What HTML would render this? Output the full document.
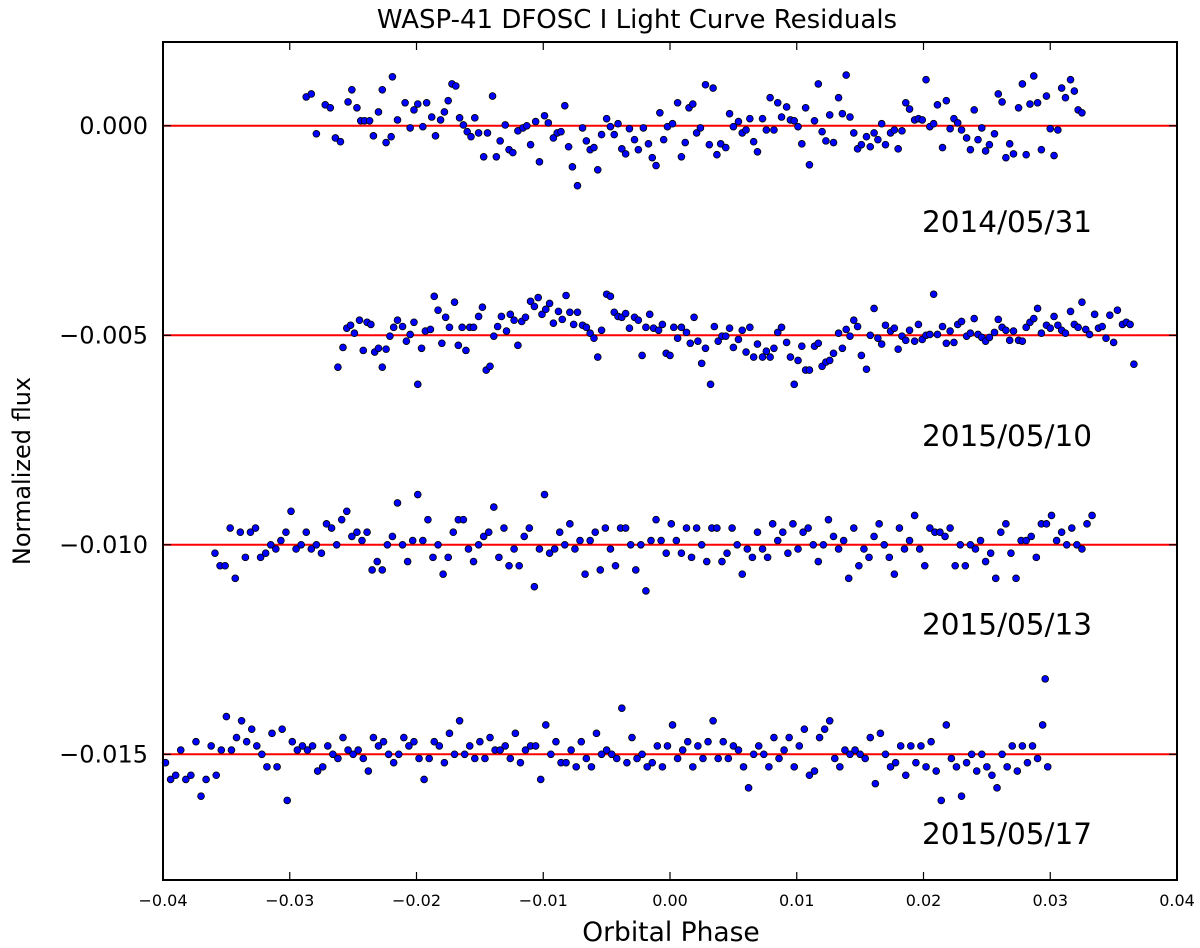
<!DOCTYPE html>
<html><head><meta charset="utf-8"><style>
html,body{margin:0;padding:0;background:#fff;}
svg{display:block;font-family:"DejaVu Sans","Liberation Sans",sans-serif;}
</style></head><body>
<svg id="chart" width="1200" height="948" viewBox="0 0 1200 948" xmlns="http://www.w3.org/2000/svg">
<rect width="1200" height="948" fill="#fff"/>
<text x="637" y="28" font-size="26" text-anchor="middle">WASP-41 DFOSC I Light Curve Residuals</text>
<text x="671" y="941" font-size="26.5" text-anchor="middle">Orbital Phase</text>
<text transform="translate(30,471) rotate(-90)" font-size="24" text-anchor="middle">Normalized flux</text>
<g id="lines"></g><g id="pts"></g><g id="axes"></g><g id="labels"></g>
<rect x="163" y="42" width="1014" height="838" fill="none" stroke="#000" stroke-width="2"/>
</svg>
<script>
const xTicks=[-0.04,-0.03,-0.02,-0.01,0.00,0.01,0.02,0.03,0.04];
const xTickLabels=["\u22120.04","\u22120.03","\u22120.02","\u22120.01","0.00","0.01","0.02","0.03","0.04"];
const yTicks=[0,-0.005,-0.010,-0.015];
const yTickLabels=["0.000","\u22120.005","\u22120.010","\u22120.015"];
const baselines=[0,-0.005,-0.010,-0.015];
const dateLabels=["2014/05/31","2015/05/10","2015/05/13","2015/05/17"];
const dateLabelY=[-0.0023,-0.0074,-0.0119,-0.0169];
// phases in units of 1e-3, residuals in units of 1e-4 relative to baseline
const phase1=[-28.7,-28.3,-27.9,-27.2,-26.8,-26.4,-26.0,-25.4,-25.1,-24.7,-24.4,-24.1,-23.7,-23.4,-23.0,-22.7,-22.4,-22.0,-21.9,-21.5,-20.9,-20.5,-20.2,-19.9,-19.5,-19.2,-18.8,-18.5,-18.1,-17.8,-17.5,-17.2,-16.9,-16.6,-16.3,-16.0,-15.7,-15.4,-15.1,-14.7,-14.4,-14.0,-13.7,-13.4,-13.0,-12.7,-12.4,-12.0,-11.6,-11.3,-11.0,-10.6,-10.3,-9.9,-9.6,-9.2,-8.9,-8.6,-8.3,-8.0,-7.7,-7.3,-6.9,-6.6,-6.3,-6.0,-5.7,-5.4,-5.0,-4.7,-4.4,-4.1,-3.8,-3.5,-3.2,-2.8,-2.5,-2.1,-1.7,-1.4,-1.1,-0.8,-0.5,-0.2,0.2,0.6,0.9,1.2,1.5,1.8,2.1,2.4,2.8,3.1,3.4,3.7,4.0,4.4,4.7,5.0,5.4,5.7,6.0,6.3,6.6,6.9,7.3,7.6,7.9,8.2,8.5,8.8,9.2,9.5,9.8,10.1,10.4,10.7,11.0,11.4,11.7,12.0,12.3,12.6,12.9,13.3,13.6,13.9,14.2,14.5,14.8,15.1,15.5,15.8,16.1,16.4,16.7,17.0,17.4,17.7,18.0,18.3,18.6,18.9,19.3,19.6,19.9,20.2,20.5,20.8,21.1,21.5,21.8,22.1,22.4,22.7,23.0,23.4,23.7,24.0,24.3,24.6,24.9,25.2,25.6,25.9,26.2,26.5,26.8,27.1,27.5,27.8,28.1,28.4,28.7,29.0,29.3,29.7,30.0,30.3,30.6,30.9,31.2,31.6,31.9,32.2,32.5];
const resid1=[6.9,7.6,-1.9,5,4.3,-2.9,-3.8,5.7,8.6,4.3,1.2,1.2,1.2,-2.4,3.3,8.6,-4,-2.6,11.7,1.4,5.5,-0.5,3.8,5.2,-0.2,5.5,2.1,-2.4,1.4,3.3,6,10,9.5,1.9,0.2,-1.4,-2.6,1.9,-1.7,-7.4,-1.7,7.1,-7.4,-3.6,0.2,-5.7,-6.4,-1.2,-0.5,0,-4.5,1,-8.6,2.4,0.7,-2.9,-1.7,-1.4,4.8,-5,-9.8,-14.3,-0.5,-3.6,-5.7,-5.2,-10.5,-2.1,1.7,-0.2,-2.1,0.5,-5.5,-6.7,-0.7,-3.3,-5.7,-0.5,-4.3,-7.6,-9.5,3.1,-3.3,-0.2,0.5,5.5,-7.4,-4,4.3,5.2,-1.7,-0.5,9.8,-4.5,9,-6.9,-4.3,-5.2,2.9,-0.2,1,-1.7,-1,1.7,-3.8,-6.2,1.7,-1,6.7,-1,5.5,2.1,4.5,1.4,1.2,-0.2,-4.3,4.3,-9.3,1.2,10,-1.4,-3.6,2.6,-4,6.7,2.9,12.1,2.1,-1.7,-5.5,-4.5,-2.6,-5,-1.7,-3.3,0.5,-4.5,-1.7,-1,-5.5,-1.2,5.5,4,1.4,1.7,1.4,11,-0.2,0.5,5,-5.2,6,-0.7,1.7,0.7,-1,-2.9,-5.7,3.8,-3.3,-0.5,-6,-4.5,-1.9,7.6,5.7,-7.6,-4.3,-6.7,4.3,10,-6.9,5.2,11.9,5.5,-5.7,7.1,-0.7,-7.1,-1,9,6.7,11,8.3,3.8,3.1];
const phase2=[-26.2,-25.8,-25.5,-25.2,-24.9,-24.5,-24.2,-23.9,-23.6,-23.3,-23.0,-22.7,-22.4,-22.1,-21.8,-21.5,-21.1,-20.8,-20.5,-20.2,-19.9,-19.6,-19.3,-18.9,-18.6,-18.3,-18.0,-17.7,-17.4,-17.0,-16.7,-16.4,-16.1,-15.8,-15.5,-15.1,-14.8,-14.5,-14.2,-13.9,-13.6,-13.3,-12.9,-12.6,-12.3,-12.0,-11.7,-11.4,-11.0,-10.7,-10.4,-10.1,-9.8,-9.5,-9.2,-8.8,-8.5,-8.2,-7.9,-7.6,-7.3,-6.9,-6.6,-6.3,-6.0,-5.7,-5.4,-5.0,-4.7,-4.4,-4.1,-3.8,-3.5,-3.2,-2.8,-2.5,-2.2,-1.9,-1.6,-1.3,-0.9,-0.6,-0.3,0,0.3,0.6,0.9,1.3,1.6,1.9,2.2,2.5,2.8,3.2,3.5,3.8,4.1,4.4,4.7,5.0,5.4,5.7,6.0,6.3,6.6,6.9,7.3,7.6,7.9,8.2,8.5,8.8,9.2,9.5,9.8,10.1,10.4,10.7,11.0,11.4,11.7,12.0,12.3,12.6,12.9,13.3,13.6,13.9,14.2,14.5,14.8,15.1,15.5,15.8,16.1,16.4,16.7,17.0,17.4,17.7,18.0,18.3,18.6,18.9,19.3,19.6,19.9,20.2,20.5,20.8,21.1,21.5,21.8,22.1,22.4,22.7,23.0,23.4,23.7,24.0,24.3,24.6,24.9,25.2,25.6,25.9,26.2,26.5,26.8,27.1,27.5,27.8,28.1,28.4,28.7,29.0,29.3,29.7,30.0,30.3,30.6,30.9,31.2,31.6,31.9,32.2,32.5,32.8,33.1,33.5,33.8,34.1,34.4,34.7,35.0,35.3,35.7,36.0,36.3,36.6];
const resid2=[-7.6,-2.9,1.7,2.4,0.5,3.6,-3.6,3.1,2.6,-4,-3.1,-7.6,-3.3,-0.2,1.9,3.6,2.1,-1.4,0.2,3.1,-11.7,-3.1,1,1.4,9.3,6,-1.9,4.3,1.9,7.9,-2.4,1.9,-3.6,1.9,1.9,4.5,6.7,-8.3,-7.4,-0.2,2.1,4.5,1,5,3.6,-2.4,3.3,4.3,8.1,6.9,9,5,6.2,7.6,2.9,5.7,3.8,9.5,5.5,2.6,5.5,2.4,1.9,0.5,-0.7,-5.2,1.2,9.8,9.3,5.5,4.5,4.3,5.2,1.7,4.3,3.6,-4.8,1.9,5,1.7,1.2,2.6,-4.3,-4.8,1.9,-0.7,1.9,0.7,-1.9,4.3,-1.4,-6.7,-3.1,-11.7,2.1,-1.4,-0.2,-0.2,1.7,-2.9,-1,1.2,-4,1.9,-5.2,-2.1,-5.2,-3.8,-5.2,-3.1,0.7,1.9,-1.7,-5.2,-11.7,-6,-2.6,-8.3,-8.3,-2.6,-1.9,-7.4,-6.4,-6,-4.3,0.5,-3.1,1.4,-0.2,3.6,2.1,-4.8,-8.1,0,6.4,-0.7,-2.1,2.4,1,1.7,-3.3,-0.2,-1.2,1.2,-1.4,2.6,-1,0,0.2,9.8,0.2,2.1,-1.9,1,-1.7,2.6,3.3,-0.2,0.5,4,0.2,-0.5,-1.4,-0.5,0.7,3.8,1.9,1.2,-1.2,1,-1.2,-1.4,1.9,3.1,4,6.4,0.5,2.4,1.7,4.5,2.4,1.2,0.5,5.7,2.6,1.9,7.9,1.4,0.2,5,1.7,2.1,-0.7,4.8,-1.7,6,2.6,3.1,2.6,-6.9];
const phase3=[-35.9,-35.5,-35.1,-34.7,-34.3,-33.9,-33.5,-33.1,-32.7,-32.3,-31.9,-31.5,-31.1,-30.7,-30.3,-29.9,-29.5,-29.1,-28.7,-28.3,-27.9,-27.5,-27.1,-26.7,-26.3,-25.9,-25.5,-25.1,-24.7,-24.3,-23.9,-23.5,-23.1,-22.7,-22.3,-21.9,-21.5,-21.1,-20.7,-20.3,-19.9,-19.5,-19.1,-18.7,-18.3,-17.9,-17.5,-17.1,-16.7,-16.3,-15.9,-15.5,-15.1,-14.7,-14.3,-13.9,-13.5,-13.1,-12.7,-12.3,-11.9,-11.5,-11.1,-10.7,-10.3,-9.9,-9.5,-9.1,-8.7,-8.3,-7.9,-7.5,-7.1,-6.7,-6.3,-5.9,-5.5,-5.1,-4.7,-4.3,-3.9,-3.5,-3.1,-2.7,-2.3,-1.9,-1.5,-1.1,-0.7,-0.3,0.1,0.5,0.9,1.3,1.7,2.1,2.5,2.9,3.3,3.7,4.1,4.5,4.9,5.3,5.7,6.1,6.5,6.9,7.3,7.7,8.1,8.5,8.9,9.3,9.7,10.1,10.5,10.9,11.3,11.7,12.1,12.5,12.9,13.3,13.7,14.1,14.5,14.9,15.3,15.7,16.1,16.5,16.9,17.3,17.7,18.1,18.5,18.9,19.3,19.7,20.1,20.5,20.9,21.3,21.7,22.1,22.5,22.9,23.3,23.7,24.1,24.5,24.9,25.3,25.7,26.1,26.5,26.9,27.3,27.7,28.1,28.5,28.9,29.3,29.7,30.1,30.5,30.9,31.3,31.7,32.1,32.5,32.9,33.3];
const resid3=[-2,-5,-5,4,-8,3,-3,3,4,-3,-2,0,-1,1,3,8,-1,0,3,-1,0,-2,5,4,0,6,8,2,3,1,3,-6,-4,-6,0,2,10,0,-4,1,12,1,6,-3,0,-7,-3,3,6,6,-1,-4,0,2,3,9,-3,4,-5,-1,-5,2,4,-10,-1,12,-2,-1,3,0,5,-1,1,-7,1,3,-6,4,-1,-5,4,4,0,-6,0,-11,1,6,1,-2,5,1,-2,4,-3,4,0,-4,4,4,-4,-2,4,0,-7,-1,-3,3,-1,-3,5,1,3,-2,5,-1,3,4,0,-4,0,6,2,-1,1,-8,4,-5,-1,-3,2,5,0,-3,-7,4,-1,1,7,-1,-5,4,3,3,2,4,-5,0,-5,0,-1,1,-4,-2,-8,3,5,-2,-8,1,1,2,-3,5,5,7,1,3,0,4,0,-1,5,7,4,5,1];
const phase4=[-39.8,-39.4,-39.0,-38.6,-38.2,-37.8,-37.4,-37.0,-36.6,-36.2,-35.8,-35.4,-35.0,-34.6,-34.2,-33.8,-33.4,-33.0,-32.6,-32.2,-31.8,-31.4,-31.0,-30.6,-30.2,-29.8,-29.4,-29.0,-28.6,-28.2,-27.8,-27.4,-27.0,-26.6,-26.2,-25.8,-25.4,-25.0,-24.6,-24.2,-23.8,-23.4,-23.0,-22.6,-22.2,-21.8,-21.4,-21.0,-20.6,-20.2,-19.8,-19.4,-19.0,-18.6,-18.2,-17.8,-17.4,-17.0,-16.6,-16.2,-15.8,-15.4,-15.0,-14.6,-14.2,-13.8,-13.4,-13.0,-12.6,-12.2,-11.8,-11.4,-11.0,-10.6,-10.2,-9.8,-9.4,-9.0,-8.6,-8.2,-7.8,-7.4,-7.0,-6.6,-6.2,-5.8,-5.4,-5.0,-4.6,-4.2,-3.8,-3.4,-3.0,-2.6,-2.2,-1.8,-1.4,-1.0,-0.6,-0.2,0.2,0.6,1.0,1.4,1.8,2.2,2.6,3.0,3.4,3.8,4.2,4.6,5.0,5.4,5.8,6.2,6.6,7.0,7.4,7.8,8.2,8.6,9.0,9.4,9.8,10.2,10.6,11.0,11.4,11.8,12.2,12.6,13.0,13.4,13.8,14.2,14.6,15.0,15.4,15.8,16.2,16.6,17.0,17.4,17.8,18.2,18.6,19.0,19.4,19.8,20.2,20.6,21.0,21.4,21.8,22.2,22.6,23.0,23.4,23.8,24.2,24.6,25.0,25.4,25.8,26.2,26.6,27.0,27.4,27.8,28.2,28.6,29.0,29.4,29.8,29.6];
const resid4=[-2,-6,-5,1,-6,-5,3,-10,-6,2,-5,1,9,1,4,8,3,6,2,0,-3,5,-3,6,-11,3,1,2,1,2,-4,-3,2,0,-1,4,1,0,1,-1,-4,4,2,3,0,-2,0,4,2,3,-1,-6,-1,3,2,-2,5,0,8,0,2,-1,3,-1,4,1,1,2,-1,5,-2,1,2,2,-6,7,0,3,-2,-2,1,-3,3,-1,-3,5,0,1,0,-1,11,-2,4,-1,0,-3,-2,2,-3,2,7,-1,1,3,-3,2,-1,3,8,-1,3,-1,2,1,-3,-8,0,2,0,-3,4,-1,1,4,-3,2,6,-5,-4,4,6,8,-1,-3,1,0,1,0,-1,4,-7,5,0,-3,-2,2,-5,2,-2,2,-3,3,-4,-11,7,-1,-3,-10,-2,0,-4,0,-3,-5,-8,0,-3,2,-4,2,-2,2,-1,7,-3,18];
const phases=[phase1,phase2,phase3,phase4];
const resids=[resid1,resid2,resid3,resid4];

const X0=163,X1=1177,Y0=42,Y1=880,XMIN=-0.04,XMAX=0.04,YMIN=-0.018,YMAX=0.002;
function sx(v){return X0+(v-XMIN)/(XMAX-XMIN)*(X1-X0);}
function sy(v){return Y0+(YMAX-v)/(YMAX-YMIN)*(Y1-Y0);}
const NS="http://www.w3.org/2000/svg";
function mk(tag,attrs,parent){const e=document.createElementNS(NS,tag);for(const k in attrs)e.setAttribute(k,attrs[k]);parent.appendChild(e);return e;}
const gL=document.getElementById('lines'),gP=document.getElementById('pts'),gA=document.getElementById('axes'),gT=document.getElementById('labels');
baselines.forEach((b,i)=>{
  const l=mk('line',{x1:X0,x2:X1,y1:sy(b),y2:sy(b),stroke:'#ff0000','stroke-width':2},gL);
  
  
});
phases.forEach((ph,s)=>{
  const rs=resids[s];const n=Math.min(ph.length,rs.length);
  for(let i=0;i<n;i++){
    const c=mk('circle',{cx:sx(ph[i]/1000),cy:sy(baselines[s]+rs[i]/10000),r:3.4,fill:'#0000ff',stroke:'#000','stroke-width':0.8},gP);
    
    
  }
});
xTicks.forEach((t,i)=>{
  const x=sx(t);
  const a=mk('line',{x1:x,x2:x,y1:Y1,y2:Y1-8,stroke:'#000','stroke-width':1.2},gA);
  
  
  mk('line',{x1:x,x2:x,y1:Y0,y2:Y0+8,stroke:'#000','stroke-width':1.2},gA);
  const tx=mk('text',{x:x,y:906,'font-size':16,'text-anchor':'middle'},gA);
  tx.textContent=xTickLabels[i];
  
  
});
yTicks.forEach((t,i)=>{
  const y=sy(t);
  const a=mk('line',{x1:X0,x2:X0+8,y1:y,y2:y,stroke:'#000','stroke-width':1.2},gA);
  
  
  mk('line',{x1:X1,x2:X1-8,y1:y,y2:y,stroke:'#000','stroke-width':1.2},gA);
  const tx=mk('text',{x:148,y:y+8,'font-size':24,'text-anchor':'end'},gA);
  tx.textContent=yTickLabels[i];
  
  
});
dateLabels.forEach((d,i)=>{
  const tx=mk('text',{x:922,y:sy(dateLabelY[i])+10,'font-size':29.5},gT);
  tx.textContent=d;
  
  
});
</script>
</body></html>
